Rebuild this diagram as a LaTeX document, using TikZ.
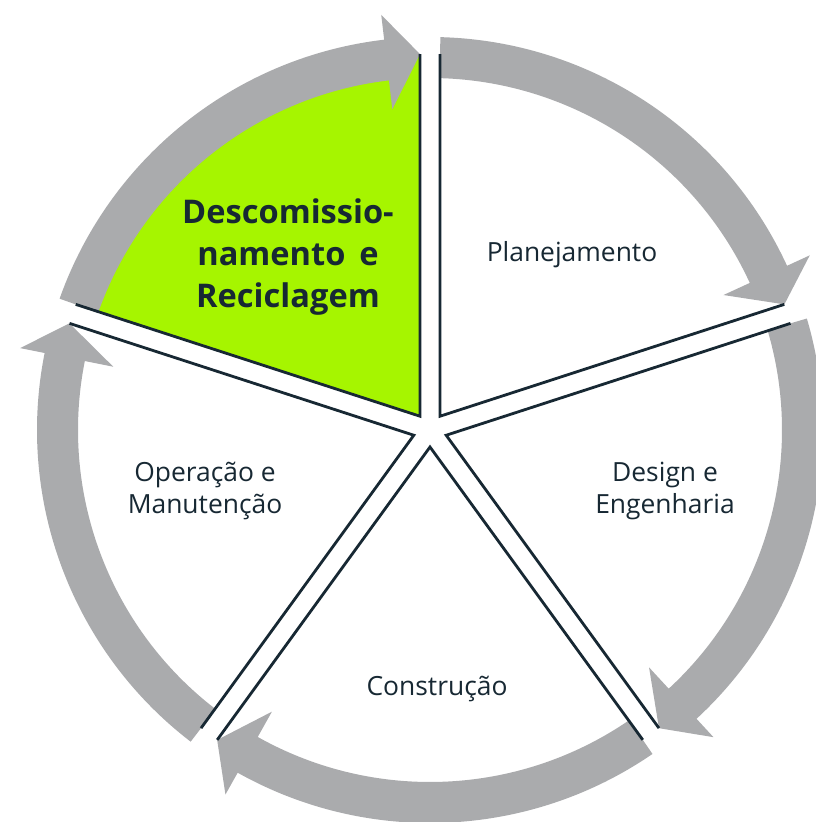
\documentclass[tikz,border=0pt]{standalone}
\usepackage{fontspec}
\setmainfont{Open Sans}
\definecolor{ringgray}{RGB}{170,171,173}
\definecolor{phasegreen}{RGB}{166,245,0}
\definecolor{inkblue}{RGB}{23,40,51}

\begin{document}
\begin{tikzpicture}[x=0.5pt,y=0.5pt,
  edge/.style={draw=inkblue,line width=1.4pt},
  ringarrow/.style={fill=ringgray},
  phasetext/.style={text=inkblue,align=center,font=\fontsize{13.2}{16.3}\selectfont},
  endtext/.style={text=inkblue,align=center,font=\fontsize{16.3}{21}\selectfont\bfseries}]
\useasboundingbox (-430,-392) rectangle (385,430);

% green sector (decommissioning)
\fill[phasegreen] (126:17) -- ([shift={(126:17)}]162:362) arc[start angle=162,end angle=90,radius=362] -- cycle;

% gray arrows round the cycle
\foreach \a in {162,90,18,-54,-126} {
  \pgfmathsetmacro{\b}{\a-72}
  \fill[ringarrow] (\a-1.52:393) arc[start angle=\a-1.52,end angle=\b+6.7,radius=393]
    -- (\b+6.7:418) -- (\b+1.52:376) -- (\b+6.7:323) -- (\b+6.7:352)
    arc[start angle=\b+6.7,end angle=\a-1.52,radius=352] -- cycle;
}

% sector edges
\foreach \a in {162,90,18,-54,-126} {
  \coordinate (apex) at (\a-36:17);
  \draw[edge] ([shift={(apex)}]\a:362) -- (apex) -- ([shift={(apex)}]\a-72:362);
}

\node[endtext] (desc) at (-142,173) {Descomissio-\\namento\, e\\Reciclagem};
\node[phasetext] (plan) at (142,175) {Planejamento};
\node[phasetext] (eng) at (235,-61) {Design e\\Engenharia};
\node[phasetext] (cons) at (7,-259) {Construção};
\node[phasetext] (oper) at (-225,-61) {Operação e\\Manutenção};
\end{tikzpicture}
\end{document}
